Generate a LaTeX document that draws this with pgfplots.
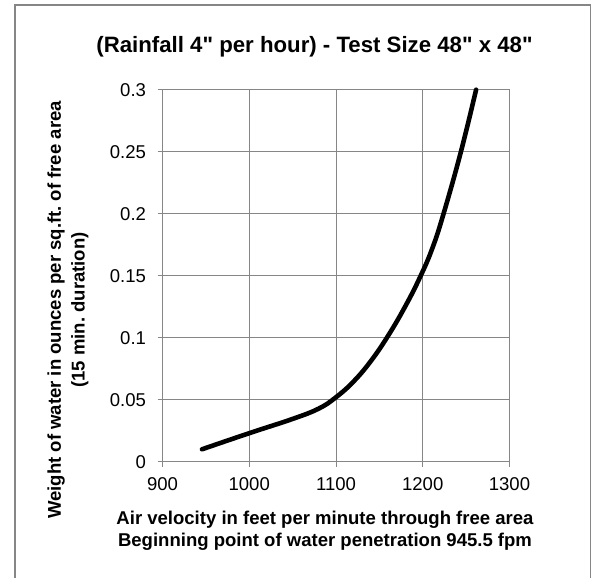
\documentclass[border=0pt]{standalone}
\usepackage{pgfplots}
\pgfplotsset{compat=1.18}
\usepackage{fontspec}
\setmainfont{Liberation Sans}[Ligatures=TeXOff]
\frenchspacing
\definecolor{xlgray}{RGB}{134,134,134}

\begin{document}
\begin{tikzpicture}
\useasboundingbox (0,0) rectangle (597bp,578bp);
\fill[white] (0,0) rectangle (597bp,578bp);
% chart area frame (cut at the bottom, as in the source)
\draw[xlgray, line width=1.2bp] (15bp,-5bp) -- (15bp,573bp) -- (590.7bp,573bp) -- (590.7bp,-5bp);

\begin{axis}[
    at={(162.5bp,116.3bp)}, anchor=south west,
    scale only axis,
    width=347bp, height=372bp,
    xmin=900, xmax=1300, ymin=0, ymax=0.3,
    xtick={900,1000,1100,1200,1300},
    ytick={0,0.05,0.1,0.15,0.2,0.25,0.3},
    xticklabels={900,1000,1100,1200,1300},
    yticklabels={0,0.05,0.1,0.15,0.2,0.25,0.3},
    grid=major,
    grid style={xlgray, line width=0.8bp},
    axis line style={xlgray, line width=0.8bp},
    tick style={xlgray, line width=0.8bp},
    tick align=outside,
    major tick length=5bp,
    axis x line*=bottom, axis y line*=left,
    ticklabel style={font=\fontsize{18.6}{20}\selectfont, text=black},
    /pgf/number format/assume math mode=true,
    xticklabel style={yshift=-7bp},
    yticklabel style={xshift=-8bp},
    clip=false,
]
\addplot[black, line width=4.6bp, line cap=round, smooth, tension=0.7] coordinates {
    (945.5,0.010) (1000,0.023) (1050,0.0345) (1080,0.0428) (1100,0.052)
    (1120,0.0645) (1140,0.081) (1160,0.1015) (1180,0.1255) (1197,0.149)
    (1211,0.172) (1224,0.200) (1244,0.250) (1261.5,0.300)
};
\end{axis}

\node[font=\bfseries\fontsize{22.3}{26}\selectfont] at (314.5bp,531.3bp)
    {(Rainfall 4" per hour) - Test Size 48" x 48"};
\node[font=\bfseries\fontsize{18.6}{21.7}\selectfont, align=center] at (325bp,47bp)
    {Air velocity in feet per minute through free area\\Beginning point of water penetration 945.5 fpm};
\node[font=\bfseries\fontsize{18.6}{24}\selectfont, align=center, rotate=90] at (68bp,268bp)
    {Weight of water in ounces per sq.ft. of free area\\(15 min. duration)};
\end{tikzpicture}
\end{document}
